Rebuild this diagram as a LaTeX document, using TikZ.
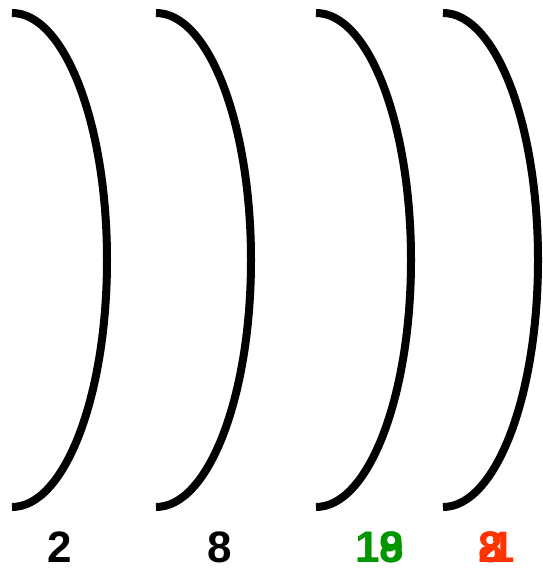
\documentclass[tikz,border=0pt]{standalone}
\usepackage{fontspec}
\setmainfont{Liberation Sans}
\definecolor{shellgreen}{RGB}{0,150,0}
\definecolor{shellred}{RGB}{255,51,0}
\begin{document}
\begin{tikzpicture}[x=1pt,y=1pt,
  shell/.style={line width=8pt,black},
  count/.style={font=\fontsize{44}{44}\selectfont\bfseries,inner sep=0pt,anchor=base}]
\useasboundingbox (0,0) rectangle (542,570);
\draw[shell] (12,557) arc[start angle=90,end angle=-90,x radius=95pt,y radius=247pt];
\draw[shell] (156,557) arc[start angle=90,end angle=-90,x radius=95pt,y radius=247pt];
\draw[shell] (316,557) arc[start angle=90,end angle=-90,x radius=95pt,y radius=247pt];
\draw[shell] (443,557) arc[start angle=90,end angle=-90,x radius=95pt,y radius=247pt];
\node[count] (n1) at (60,7) {2};
\node[count] (n2) at (220,7) {8};
\node[count,shellgreen] (n3a) at (380,7) {18};
\node[count,shellgreen] (n3b) at (380,7) {19};
\node[count,shellred] (n4a) at (491,7) {8};
\node[count,shellred] (n4b) at (491,7) {2};
\node[count,shellred] (n4c) at (503,7) {1};
\end{tikzpicture}
\end{document}
